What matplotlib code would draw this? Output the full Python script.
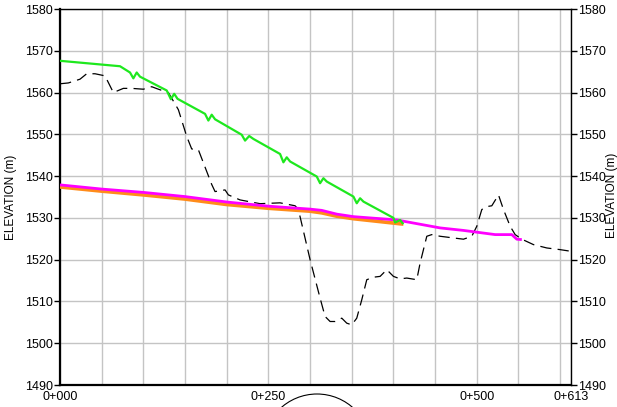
import matplotlib.pyplot as plt
from matplotlib.patches import Ellipse
from matplotlib.ticker import MultipleLocator

plt.rcParams['font.family'] = ['Liberation Sans', 'DejaVu Sans']

# existing ground (dashed black)
ground_sta = [0, 10, 24, 32, 42, 54, 64, 76, 86, 100, 110, 118, 130, 142, 152, 158, 166,
              182, 186, 198, 202, 216, 240, 264, 282, 286, 300, 312, 318, 324, 330, 338,
              344, 350, 356, 362, 368, 376, 384, 392, 400, 408, 416, 422, 428, 432, 440,
              446, 456, 472, 484, 494, 500, 506, 512, 518, 526, 532, 540, 546, 554, 568,
              584, 600, 613]
ground_elev = [1562.1, 1562.3, 1563.2, 1564.5, 1564.5, 1564.0, 1560.0, 1561.0, 1561.0,
               1560.8, 1561.4, 1560.8, 1560.0, 1555.9, 1549.5, 1546.5, 1546.3, 1538.0,
               1536.3, 1536.7, 1535.5, 1534.3, 1533.4, 1533.6, 1532.9, 1532.0, 1520.0,
               1510.8, 1506.4, 1505.2, 1505.2, 1506.0, 1504.8, 1504.4, 1506.0, 1510.4,
               1515.2, 1515.8, 1516.0, 1517.6, 1516.0, 1515.4, 1515.6, 1515.4, 1515.2,
               1519.2, 1525.6, 1526.0, 1525.6, 1525.2, 1524.9, 1525.6, 1528.0, 1532.0,
               1532.7, 1532.9, 1535.5, 1532.0, 1528.0, 1526.0, 1524.9, 1523.6, 1522.8,
               1522.4, 1522.0]

# green profile
green_sta = [0, 72, 84, 88, 92, 96, 128, 133, 137, 141, 174, 178, 182, 186, 218, 222, 227,
             232, 264, 268, 272, 276, 308, 312, 316, 320, 352, 356, 360, 364, 400, 402,
             408, 411]
green_elev = [1567.6, 1566.3, 1564.8, 1563.4, 1564.8, 1563.8, 1560.5, 1558.4, 1559.7,
              1558.5, 1554.9, 1553.3, 1554.7, 1553.6, 1549.9, 1548.5, 1549.6, 1548.9,
              1545.3, 1543.3, 1544.5, 1543.5, 1539.9, 1538.3, 1539.5, 1538.7, 1535.1,
              1533.5, 1534.7, 1533.9, 1530.0, 1528.9, 1529.5, 1528.7]

# magenta profile
mag_sta = [0, 50, 100, 150, 200, 250, 300, 314, 332, 352, 404, 456, 484, 522, 542, 548, 554]
mag_elev = [1537.9, 1536.9, 1536.1, 1535.1, 1533.8, 1532.8, 1532.1, 1531.8, 1530.9,
            1530.3, 1529.5, 1527.6, 1527.0, 1526.0, 1526.0, 1524.9, 1524.8]

# orange profile
orange_sta = [0, 50, 100, 150, 200, 250, 300, 314, 332, 352, 412]
orange_elev = [1537.4, 1536.4, 1535.5, 1534.5, 1533.2, 1532.3, 1531.6, 1531.2, 1530.4,
               1529.8, 1528.5]

x_ticks = [0, 250, 500, 613]
x_labels = ['0+000', '0+250', '0+500', '0+613']
y_ticks = list(range(1490, 1581, 10))

fig = plt.figure(figsize=(6.17, 4.07), dpi=100)
ax = fig.add_axes([60 / 617, 22 / 407, 511 / 617, 376 / 407])

ax.plot(ground_sta, ground_elev, color='black', lw=0.9, ls=(0, (9, 5)), zorder=2)
ax.plot(orange_sta, orange_elev, color='#ff8c1a', lw=2.6, zorder=3, solid_capstyle='butt')
ax.plot(mag_sta, mag_elev, color='#ff00ff', lw=2.0, zorder=4, solid_capstyle='butt')
ax.plot(green_sta, green_elev, color='#1ee81e', lw=1.6, zorder=5)

ax.set_xlim(0, 613)
ax.set_ylim(1490, 1580)
ax.set_xticks(x_ticks)
ax.set_xticklabels(x_labels)
ax.xaxis.set_minor_locator(MultipleLocator(50))
ax.set_yticks(y_ticks)
ax.grid(True, which='both', color='#c4c4c4', lw=1.0, zorder=0)
ax.set_axisbelow(True)
ax.tick_params(axis='x', which='both', length=0, pad=4, labelsize=9)
ax.tick_params(axis='y', length=4, width=1, pad=1, labelsize=9,
               right=True, labelright=True)
ax.set_ylabel('ELEVATION (m)', fontsize=8.5, labelpad=6)

for side in ['left', 'bottom']:
    ax.spines[side].set_linewidth(1.6)
for side in ['top', 'right']:
    ax.spines[side].set_linewidth(1.0)

fig.text(612 / 617, 0.52, 'ELEVATION (m)', rotation=90, fontsize=8.5,
         ha='center', va='center')

circle = Ellipse((317 / 617, (407 - 448) / 407), 108 / 617, 108 / 407,
                 transform=fig.transFigure, fill=False, color='black', lw=0.8)
fig.add_artist(circle)

fig.savefig('out.png', dpi=100)
